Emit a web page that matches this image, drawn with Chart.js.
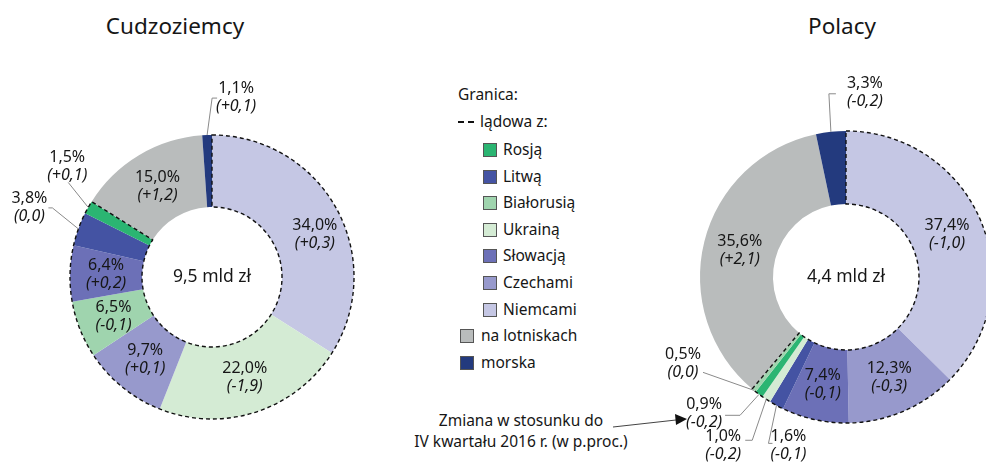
<!DOCTYPE html>
<html lang="pl">
<head>
<meta charset="utf-8">
<script src="https://cdn.jsdelivr.net/npm/chart.js@4"></script>
<style>
  html, body { margin: 0; padding: 0; width: 986px; height: 462px; overflow: hidden; background: #fff; }
  body { position: relative; font-family: "Noto Sans", sans-serif; color: #161616; }
  canvas { position: absolute; left: 0; top: 0; }
  .title { position: absolute; top: 10px; font-size: 22.5px; transform: translateX(-50%); white-space: nowrap; }
  .lg { position: absolute; height: 20px; line-height: 20px; font-size: 15.5px; white-space: nowrap; }
  .box { position: absolute; width: 12px; height: 12px; border: 1px solid #555; }
  .note { position: absolute; font-size: 15.5px; line-height: 21px; text-align: center; white-space: nowrap; transform: translateX(-50%); }
</style>
</head>
<body>
<div class="title" style="left:175px">Cudzoziemcy</div>
<div class="title" style="left:842px">Polacy</div>
<div id="legend"></div>
<div class="note" style="left:521px; top:410px">Zmiana w stosunku do<br>IV kwartału 2016 r. (w p.proc.)</div>
<svg width="986" height="462" style="position:absolute;left:0;top:0">
  <line x1="613" y1="427" x2="676" y2="420" stroke="#444" stroke-width="1"/>
  <polygon points="687,419 675,414 676,425" fill="#111"/>
</svg>
<canvas id="foreign" width="986" height="462"></canvas>
<canvas id="poles" width="986" height="462"></canvas>
<script>
// legend order and colours
const categories = ['Rosją', 'Litwą', 'Białorusią', 'Ukrainą', 'Słowacją', 'Czechami', 'Niemcami', 'na lotniskach', 'morska'];
const catColors = ['#2bb572', '#4453a3', '#9fd4ae', '#d4ebd4', '#6c70b7', '#9799cc', '#c5c7e4', '#b9bcbc', '#233a7e'];
const landBorders = ['Rosją', 'Litwą', 'Białorusią', 'Ukrainą', 'Słowacją', 'Czechami', 'Niemcami'];

// Cudzoziemcy
const foreignLabels = ['Niemcami', 'Ukrainą', 'Czechami', 'Białorusią', 'Słowacją', 'Litwą', 'Rosją', 'na lotniskach', 'morska'];
const foreignShares = [34.0, 22.0, 9.7, 6.5, 6.4, 3.8, 1.5, 15.0, 1.1];
const foreignChanges = [0.3, -1.9, 0.1, -0.1, 0.2, 0.0, 0.1, 1.2, 0.1];
const foreignTotal = '9,5 mld zł';

// Polacy
const polesLabels = ['Niemcami', 'Czechami', 'Słowacją', 'Litwą', 'Ukrainą', 'Rosją', 'Białorusią', 'na lotniskach', 'morska'];
const polesShares = [37.4, 12.3, 7.4, 1.6, 1.0, 0.9, 0.5, 35.6, 3.3];
const polesChanges = [-1.0, -0.3, -0.1, -0.1, -0.2, -0.2, 0.0, 2.1, -0.2];
const polesTotal = '4,4 mld zł';

function fmtPct(v) { return v.toFixed(1).replace('.', ',') + '%'; }
function fmtChange(v) {
  const s = Math.abs(v).toFixed(1).replace('.', ',');
  return '(' + (v > 0 ? '+' : v < 0 ? '-' : '') + s + ')';
}

// legend
const legend = document.getElementById('legend');
function addText(txt, x, cy) {
  const d = document.createElement('div');
  d.className = 'lg'; d.textContent = txt;
  d.style.left = x + 'px'; d.style.top = (cy - 11) + 'px';
  legend.appendChild(d);
}
addText('Granica:', 458, 95);
addText('lądowa z:', 480, 122);
const dash = document.createElement('div');
dash.style.cssText = 'position:absolute;left:458px;top:121px;width:16px;border-top:2px dashed #111';
legend.appendChild(dash);
categories.forEach((c, i) => {
  const cy = 150 + i * 26.6;
  const sub = landBorders.includes(c);
  const b = document.createElement('div');
  b.className = 'box';
  b.style.background = catColors[i];
  b.style.left = (sub ? 483 : 460) + 'px';
  b.style.top = (cy - 7) + 'px';
  legend.appendChild(b);
  addText(c, sub ? 503 : 481, cy);
});

const ringPlugin = {
  id: 'ring',
  afterDatasetsDraw(chart, args, opts) {
    const ctx = chart.ctx;
    const arcs = chart.getDatasetMeta(0).data;
    const labels = chart.data.labels;
    const land = labels.map((l, i) => landBorders.includes(l) ? i : -1).filter(i => i >= 0);
    const a0 = arcs[land[0]], a1 = arcs[land[land.length - 1]];

    // dashed outline around the land-border group
    ctx.save();
    ctx.beginPath();
    ctx.arc(a0.x, a0.y, a0.outerRadius, a0.startAngle, a1.endAngle);
    ctx.arc(a0.x, a0.y, a0.innerRadius, a1.endAngle, a0.startAngle, true);
    ctx.closePath();
    ctx.setLineDash([4, 3]);
    ctx.lineWidth = 1.4;
    ctx.strokeStyle = '#111';
    ctx.stroke();
    ctx.restore();

    ctx.save();
    ctx.textAlign = 'center';
    ctx.textBaseline = 'middle';
    ctx.fillStyle = '#161616';
    arcs.forEach((arc, i) => {
      const name = labels[i];
      const co = opts.callouts[name];
      let cx, cy;
      if (co) {
        const mid = (arc.startAngle + arc.endAngle) / 2;
        const ax = arc.x + Math.cos(mid) * arc.outerRadius;
        const ay = arc.y + Math.sin(mid) * arc.outerRadius;
        const ex = ax + co.elbow[0], ey = ay + co.elbow[1];
        const tx = ex + co.tail;
        ctx.beginPath();
        ctx.moveTo(ax, ay); ctx.lineTo(ex, ey); ctx.lineTo(tx, ey);
        ctx.lineWidth = 1; ctx.strokeStyle = '#8a8a8a'; ctx.stroke();
        cx = tx + co.text[0]; cy = ey + co.text[1];
      } else {
        const p = arc.tooltipPosition(true);
        const n = opts.nudges[name] || [0, 0];
        cx = p.x + n[0]; cy = p.y + n[1];
      }
      ctx.font = '16px "Noto Sans"';
      ctx.fillText(fmtPct(opts.values[i]), cx, cy - 9);
      ctx.font = 'italic 16px "Noto Sans"';
      ctx.fillText(fmtChange(opts.changes[i]), cx, cy + 9);
    });
    ctx.font = '17.5px "Noto Sans"';
    ctx.fillText(opts.total, a0.x, a0.y);
    ctx.restore();
  }
};

function makeChart(id, names, values, changes, total, center, radius, cutout, callouts, nudges) {
  return new Chart(document.getElementById(id), {
    type: 'doughnut',
    data: {
      labels: names,
      datasets: [{
        data: values,
        backgroundColor: names.map(n => catColors[categories.indexOf(n)]),
        borderWidth: 0
      }]
    },
    options: {
      responsive: false,
      animation: false,
      radius: radius,
      cutout: cutout,
      layout: { padding: { left: center[0] - 10, right: 986 - center[0] - 10, top: center[1] - 10, bottom: 462 - center[1] - 10 } },
      plugins: {
        legend: { display: false },
        tooltip: { enabled: false },
        ring: { values, changes, total, callouts, nudges }
      }
    },
    plugins: [ringPlugin]
  });
}

makeChart('foreign', foreignLabels, foreignShares, foreignChanges, foreignTotal, [212, 277], 142, '49.3%', {
  'morska': { elbow: [5, -37], tail: 5, text: [19, -1] },
  'Rosją': { elbow: [-20, -25], tail: 0, text: [-1, -16] },
  'Litwą': { elbow: [-26, -21], tail: -4, text: [-19, 0] }
}, { 'Niemcami': [10, 9] });

makeChart('poles', polesLabels, polesShares, polesChanges, polesTotal, [846, 277], 146, '50%', {
  'morska': { elbow: [-2, -38], tail: 7, text: [29, -1] },
  'Białorusią': { elbow: [-51, -18], tail: 0, text: [-20, -9] },
  'Rosją': { elbow: [-19, 21], tail: -15, text: [-21, -2] },
  'Ukrainą': { elbow: [-14, 41], tail: -7, text: [-22, 5] },
  'Litwą': { elbow: [-8, 38], tail: 4, text: [16, 2] }
}, {});
</script>
</body>
</html>
